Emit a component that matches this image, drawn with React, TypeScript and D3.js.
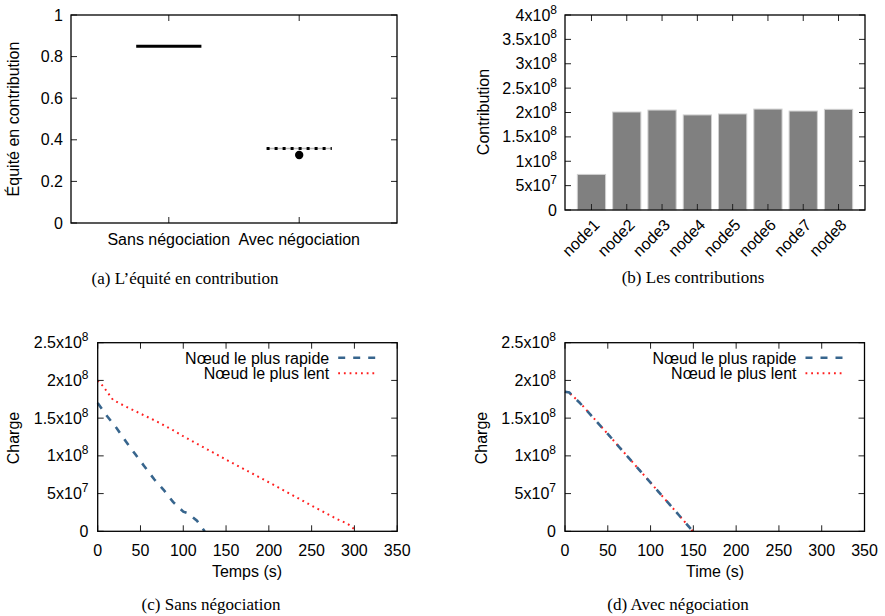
import React from "react";
import * as d3 from "d3";

// ---------- Data ----------
const equiteCategories = ["Sans négociation", "Avec négociation"];
const equiteMedian = [0.85, 0.358];
const equiteOutlier = [null, 0.327];

const nodeNames = ["node1", "node2", "node3", "node4", "node5", "node6", "node7", "node8"];
const contributions = [0.73e8, 2.01e8, 2.05e8, 1.95e8, 1.97e8, 2.07e8, 2.03e8, 2.065e8];
const contributionTicks = [0, 0.5e8, 1e8, 1.5e8, 2e8, 2.5e8, 3e8, 3.5e8, 4e8];

const sansFastTime = [0, 10, 22, 33, 44, 54, 66, 77, 88, 100, 105, 116, 125];
const sansFastCharge = [1.7e8, 1.54e8, 1.37e8, 1.19e8, 1.02e8, 0.87e8, 0.69e8, 0.55e8, 0.39e8, 0.26e8, 0.24e8, 0.14e8, 0];
const sansSlowTime = [0, 6.5, 18, 30, 50, 70, 88, 100, 150, 200, 250, 280, 290, 296, 302];
const sansSlowCharge = [2.0e8, 1.92e8, 1.74e8, 1.67e8, 1.56e8, 1.45e8, 1.34e8, 1.26e8, 0.95e8, 0.65e8, 0.34e8, 0.16e8, 0.11e8, 0.07e8, 0];

const avecFastTime = [0, 5, 17.5, 50, 100, 148, 149];
const avecFastCharge = [1.85e8, 1.84e8, 1.7e8, 1.29e8, 0.645e8, 0.02e8, 0];
const avecSlowTime = [0, 5, 17.5, 50, 100, 148, 149];
const avecSlowCharge = [1.85e8, 1.835e8, 1.705e8, 1.29e8, 0.645e8, 0.02e8, 0];

const timeTicks = [0, 50, 100, 150, 200, 250, 300, 350];
const chargeTicks = [0, 0.5e8, 1e8, 1.5e8, 2e8, 2.5e8];
const equiteTicks = [0, 0.2, 0.4, 0.6, 0.8, 1];

const legendLabels = ["Nœud le plus rapide", "Nœud le plus lent"];
const captions = ["(a) L’équité en contribution", "(b) Les contributions", "(c) Sans négociation", "(d) Avec négociation"];

// ---------- Styles ----------
const SANS = "'Liberation Sans', Arial, Helvetica, sans-serif";
const SERIF = "'Liberation Serif', 'Times New Roman', serif";
const FS = 16;
const FAST_COLOR = "#37658d";
const SLOW_COLOR = "#ff1f1f";
const TICK = 6;

function sciParts(v: number): { m: string; e: string | null } {
  if (v === 0) return { m: "0", e: null };
  const e = Math.floor(Math.log10(v) + 1e-9);
  const m = +(v / Math.pow(10, e)).toFixed(2);
  return { m: `${m}x10`, e: String(e) };
}

function SciLabel({ x, y, v }: { x: number; y: number; v: number }) {
  const p = sciParts(v);
  return (
    <text x={x} y={y + 5.5} textAnchor="end" fontFamily={SANS} fontSize={FS}>
      {p.m}
      {p.e && (
        <tspan fontSize={12} dy={-7}>
          {p.e}
        </tspan>
      )}
    </text>
  );
}

type Lin = d3.ScaleLinear<number, number>;

function Frame({ x, y, xt, yt }: { x: Lin; y: Lin; xt: number[]; yt: number[] }) {
  const [x0, x1] = x.range();
  const [y0, y1] = y.range(); // y0 bottom, y1 top
  return (
    <g>
      {xt.map((t, i) => (
        <g key={"x" + i}>
          <line x1={x(t)} x2={x(t)} y1={y0} y2={y0 - TICK} stroke="#222" strokeWidth={1} />
          <line x1={x(t)} x2={x(t)} y1={y1} y2={y1 + TICK} stroke="#222" strokeWidth={1} />
        </g>
      ))}
      {yt.map((t, i) => (
        <g key={"y" + i}>
          <line x1={x0} x2={x0 + TICK} y1={y(t)} y2={y(t)} stroke="#222" strokeWidth={1} />
          <line x1={x1} x2={x1 - TICK} y1={y(t)} y2={y(t)} stroke="#222" strokeWidth={1} />
        </g>
      ))}
      <rect x={x0} y={y1} width={x1 - x0} height={y0 - y1} fill="none" stroke="#000" strokeWidth={1.3} />
    </g>
  );
}

function PanelA() {
  const x = d3.scaleLinear().domain([0.25, 2.75]).range([71, 397]);
  const y = d3.scaleLinear().domain([0, 1]).range([223, 15]);
  const half = 0.25;
  return (
    <g>
      <Frame x={x} y={y} xt={[1, 2]} yt={equiteTicks} />
      {equiteTicks.map((t, i) => (
        <text key={i} x={63} y={y(t) + 5.5} textAnchor="end" fontFamily={SANS} fontSize={FS}>
          {String(t)}
        </text>
      ))}
      {equiteCategories.map((c, i) => (
        <text key={i} x={x(i + 1)} y={245} textAnchor="middle" fontFamily={SANS} fontSize={FS}>
          {c}
        </text>
      ))}
      <line x1={x(1 - half)} x2={x(1 + half)} y1={y(equiteMedian[0])} y2={y(equiteMedian[0])} stroke="#000" strokeWidth={3} />
      <line x1={x(2 - half)} x2={x(2 + half)} y1={y(equiteMedian[1])} y2={y(equiteMedian[1])} stroke="#bbb" strokeWidth={1.5} />
      <line
        x1={x(2 - half)}
        x2={x(2 + half)}
        y1={y(equiteMedian[1])}
        y2={y(equiteMedian[1])}
        stroke="#000"
        strokeWidth={3}
        strokeDasharray="3,5"
      />
      {equiteOutlier.map((o, i) =>
        o === null ? null : <circle key={i} cx={x(i + 1)} cy={y(o)} r={4.2} fill="#000" />
      )}
      <text transform="translate(19,119) rotate(-90)" textAnchor="middle" fontFamily={SANS} fontSize={FS}>
        Équité en contribution
      </text>
      <text x={185} y={284} textAnchor="middle" fontFamily={SERIF} fontSize={17}>
        {captions[0]}
      </text>
    </g>
  );
}

function PanelB() {
  const x = d3.scaleLinear().domain([-0.75, 7.75]).range([565, 865]);
  const y = d3.scaleLinear().domain([0, 4e8]).range([210, 15]);
  const bw = 0.8;
  return (
    <g>
      {contributions.map((v, i) => (
        <rect
          key={i}
          x={x(i - bw / 2)}
          y={y(v)}
          width={x(bw) - x(0)}
          height={y(0) - y(v)}
          fill="#808080"
          stroke="#d0d0d0"
          strokeWidth={1}
        />
      ))}
      <Frame x={x} y={y} xt={nodeNames.map((_, i) => i)} yt={contributionTicks} />
      {contributionTicks.map((t, i) => (
        <SciLabel key={i} x={557} y={y(t)} v={t} />
      ))}
      {nodeNames.map((n, i) => (
        <text
          key={i}
          transform={`translate(${x(i) + 9},${226}) rotate(-45)`}
          textAnchor="end"
          fontFamily={SANS}
          fontSize={FS}
        >
          {n}
        </text>
      ))}
      <text transform="translate(489,112) rotate(-90)" textAnchor="middle" fontFamily={SANS} fontSize={FS}>
        Contribution
      </text>
      <text x={693} y={283} textAnchor="middle" fontFamily={SERIF} fontSize={17}>
        {captions[1]}
      </text>
    </g>
  );
}

function LinePanel({
  left,
  labelEnd,
  yLabelX,
  xLabel,
  xLabelX,
  caption,
  captionX,
  fastT,
  fastC,
  slowT,
  slowC,
}: {
  left: number;
  labelEnd: number;
  yLabelX: number;
  xLabel: string;
  xLabelX: number;
  caption: string;
  captionX: number;
  fastT: number[];
  fastC: number[];
  slowT: number[];
  slowC: number[];
}) {
  const x = d3.scaleLinear().domain([0, 350]).range([left, left + 299.5]);
  const y = d3.scaleLinear().domain([0, 2.5e8]).range([531.3, 342.7]);
  const line = d3
    .line<[number, number]>()
    .x((d) => x(d[0]))
    .y((d) => y(d[1]));
  const fast = fastT.map((t, i) => [t, fastC[i]] as [number, number]);
  const slow = slowT.map((t, i) => [t, slowC[i]] as [number, number]);
  const right = left + 299.5;
  const legTextEnd = right - 68;
  const sx0 = right - 59;
  const sx1 = right - 21;
  return (
    <g>
      <path d={line(slow) || ""} fill="none" stroke={SLOW_COLOR} strokeWidth={2} strokeDasharray="1.8,3.9" />
      <path d={line(fast) || ""} fill="none" stroke={FAST_COLOR} strokeWidth={2.6} strokeDasharray="7,8" />
      <Frame x={x} y={y} xt={timeTicks} yt={chargeTicks} />
      {chargeTicks.map((t, i) => (
        <SciLabel key={i} x={labelEnd} y={y(t)} v={t} />
      ))}
      {timeTicks.map((t, i) => (
        <text key={i} x={x(t)} y={555.5} textAnchor="middle" fontFamily={SANS} fontSize={FS}>
          {String(t)}
        </text>
      ))}
      <text x={legTextEnd} y={363.5} textAnchor="end" fontFamily={SANS} fontSize={FS}>
        {legendLabels[0]}
      </text>
      <line x1={sx0} x2={sx1} y1={357.7} y2={357.7} stroke={FAST_COLOR} strokeWidth={2.6} strokeDasharray="7,8" />
      <text x={legTextEnd} y={379} textAnchor="end" fontFamily={SANS} fontSize={FS}>
        {legendLabels[1]}
      </text>
      <line x1={sx0} x2={sx1} y1={373.3} y2={373.3} stroke={SLOW_COLOR} strokeWidth={2} strokeDasharray="1.8,3.9" />
      <text transform={`translate(${yLabelX},438) rotate(-90)`} textAnchor="middle" fontFamily={SANS} fontSize={FS}>
        Charge
      </text>
      <text x={xLabelX} y={577} textAnchor="middle" fontFamily={SANS} fontSize={FS}>
        {xLabel}
      </text>
      <text x={captionX} y={610} textAnchor="middle" fontFamily={SERIF} fontSize={17}>
        {caption}
      </text>
    </g>
  );
}

export default function App() {
  return (
    <svg
      width={885}
      height={616}
      viewBox="0 0 885 616"
      style={{ position: "absolute", left: 0, top: 0, background: "#fff" }}
    >
      <rect x={0} y={0} width={885} height={616} fill="#fff" />
      <PanelA />
      <PanelB />
      <LinePanel
        left={97.7}
        labelEnd={88.5}
        yLabelX={18.5}
        xLabel="Temps (s)"
        xLabelX={247}
        caption={captions[2]}
        captionX={211}
        fastT={sansFastTime}
        fastC={sansFastCharge}
        slowT={sansSlowTime}
        slowC={sansSlowCharge}
      />
      <LinePanel
        left={565}
        labelEnd={556}
        yLabelX={487}
        xLabel="Time (s)"
        xLabelX={715}
        caption={captions[3]}
        captionX={678}
        fastT={avecFastTime}
        fastC={avecFastCharge}
        slowT={avecSlowTime}
        slowC={avecSlowCharge}
      />
    </svg>
  );
}
